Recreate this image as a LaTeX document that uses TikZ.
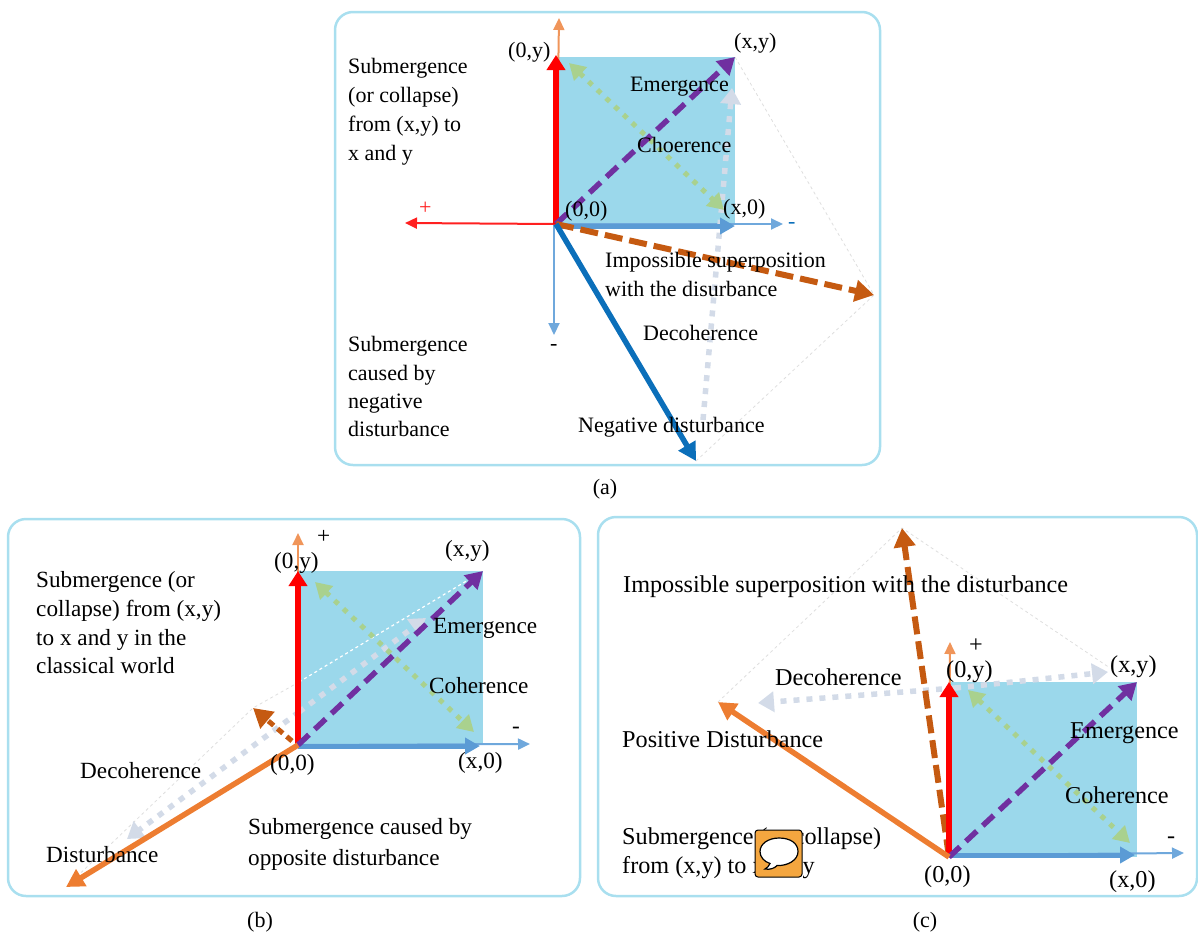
\documentclass[tikz,border=0pt]{standalone}
\usepackage{fontspec}
\setmainfont{Liberation Serif}
\usetikzlibrary{arrows.meta}
\definecolor{panelblue}{HTML}{A9DFEF}
\definecolor{sqblue}{HTML}{9BD8EB}
\definecolor{axred}{HTML}{FF2020}
\definecolor{axorange}{HTML}{F0955A}
\definecolor{axblue}{HTML}{6FA8DC}
\definecolor{thickblue}{HTML}{5B9BD5}
\definecolor{darkblue}{HTML}{0B6FBA}
\definecolor{brownish}{HTML}{C55A11}
\definecolor{purp}{HTML}{7030A0}
\definecolor{greenish}{HTML}{A9D18E}
\definecolor{paleblue}{HTML}{D3DBE8}
\definecolor{orangedist}{HTML}{ED7D31}
\definecolor{iconorange}{HTML}{F4A63F}
\tikzset{
  x=1pt,y=-1pt,
  panel/.style={draw=panelblue,line width=2.5pt,rounded corners=18pt,outer sep=0pt},
  thinaxis/.style={line width=2pt,-{Triangle[length=12pt,width=11pt]}},
  redthick/.style={draw=red,line width=6pt,-{Triangle[length=15pt,width=18pt]}},
  xthick/.style={draw=thickblue,line width=5pt,-{Triangle[length=15pt,width=16pt]}},
  purple dash/.style={draw=purp,line width=5.5pt,dash pattern=on 15pt off 8pt,-{Triangle[length=17pt,width=19pt]}},
  brown dash/.style={draw=brownish,line width=6pt,dash pattern=on 18pt off 7pt,-{Triangle[length=19pt,width=21pt]}},
  green dot/.style={draw=greenish,line width=5pt,dash pattern=on 5pt off 7pt,{Triangle[length=16pt,width=18pt]}-{Triangle[length=16pt,width=18pt]}},
  pale dot/.style={draw=paleblue,line width=5.5pt,dash pattern=on 6pt off 7pt,-{Triangle[length=16pt,width=20pt]}},
  solid dist/.style={line width=5.5pt,-{Triangle[length=18pt,width=19pt]}},
  faint/.style={draw=black!13,line width=0.8pt,dashed},
  laba/.style={anchor=base west,inner sep=0pt,font=\fontsize{22}{26}\selectfont},
  labb/.style={anchor=base west,inner sep=0pt,font=\fontsize{23.2}{27}\selectfont},
  labc/.style={anchor=base west,inner sep=0pt,font=\fontsize{24.2}{28}\selectfont},
  captext/.style={anchor=base,inner sep=0pt,font=\fontsize{22}{26}\selectfont},
}
\begin{document}
\begin{tikzpicture}
\useasboundingbox (0,0) rectangle (1198,932);
% ===== panel (a)
\node[panel,minimum width=545pt,minimum height=453pt,anchor=north west,inner sep=0pt] (pa) at (335,12) {};
\coordinate (aO) at (556,224);
\coordinate (aY) at (556,55);
\coordinate (aXY) at (735,57);
\coordinate (aUp) at (559,18);
\coordinate (aLeft) at (405,223);
\coordinate (aRight) at (783,224);
\coordinate (aDs) at (554,224);
\coordinate (aDown) at (554,335);
\coordinate (aNeg) at (696,461);
\coordinate (aImp) at (874,295);
\coordinate (aG1) at (569,63);
\coordinate (aG2) at (724,210);
\coordinate (aD1) at (703,420);
\coordinate (aD2) at (732,88);
\coordinate (aXb) at (556,226);
\coordinate (aXe) at (735,226);
\fill[sqblue] (aO) rectangle (aXY);
\draw[axorange,thinaxis] (aO) -- (aUp);
\draw[axblue,thinaxis] (aO) -- (aRight);
\draw[axblue,thinaxis] (aDs) -- (aDown);
\draw[axred,thinaxis] (aO) -- (aLeft);
\draw[faint] (aXY) -- (aImp) -- (aNeg);
\draw[pale dot] (aD1) -- (aD2);
\draw[xthick] (aXb) -- (aXe);
\draw[redthick] (aO) -- (aY);
\draw[green dot] (aG1) -- (aG2);
\draw[purple dash] (aO) -- (aXY);
\draw[brown dash] (aO) -- (aImp);
\draw[draw=darkblue,solid dist] (aO) -- (aNeg);
\node[laba] (a1) at (348,73) {Submergence};
\node[laba] (a2) at (348,102) {(or collapse)};
\node[laba] (a3) at (348,131) {from (x,y) to};
\node[laba] (a4) at (348,160) {x and y};
\node[laba] (a5) at (508,57) {(0,y)};
\node[laba] (a6) at (734,48) {(x,y)};
\node[laba] (a7) at (630,91) {Emergence};
\node[laba] (a8) at (637,152) {Choerence};
\node[laba] (a9) at (565,216) {(0,0)};
\node[laba] (a10) at (723,214) {(x,0)};
\node[laba,text=axred] (a11) at (419,214) {+};
\node[laba,text=darkblue] (a12) at (788,228) {-};
\node[laba] (a13) at (605,267) {Impossible superposition};
\node[laba] (a14) at (605,296) {with the disurbance};
\node[laba] (a15) at (643,340) {Decoherence};
\node[laba] (a16) at (550,350) {-};
\node[laba] (a17) at (348,351) {Submergence};
\node[laba] (a18) at (348,380) {caused by};
\node[laba] (a19) at (348,408) {negative};
\node[laba] (a20) at (348,436) {disturbance};
\node[laba] (a21) at (578,432) {Negative disturbance};
\node[captext] (a22) at (605,494) {(a)};
% ===== panel (b)
\node[panel,minimum width=572pt,minimum height=377pt,anchor=north west,inner sep=0pt] (pb) at (8,519) {};
\coordinate (bO) at (298,745);
\coordinate (bY) at (298,571);
\coordinate (bXY) at (483,571);
\coordinate (bUp) at (298,533);
\coordinate (bRight) at (530,744);
\coordinate (bDist) at (66,887);
\coordinate (bImp) at (253,708);
\coordinate (bImpS) at (292,741);
\coordinate (bG1) at (315,582);
\coordinate (bG2) at (474,732);
\coordinate (bDs) at (299,712);
\coordinate (bD1) at (127,839);
\coordinate (bD2) at (426,618);
\coordinate (bW) at (299,682);
\coordinate (bXe) at (480,746);
\coordinate (bXb) at (298,746);
\fill[sqblue] (bO) rectangle (bXY);
\draw[axorange,thinaxis] (bO) -- (bUp);
\draw[axblue,thinaxis] (bO) -- (bRight);
\draw[faint] (bW) -- (bImp) -- (bDist);
\draw[white,line width=1.2pt,dashed] (bW) -- (bXY);
\draw[pale dot] (bDs) -- (bD1);
\draw[pale dot] (bDs) -- (bD2);
\draw[xthick] (bXb) -- (bXe);
\draw[redthick] (bO) -- (bY);
\draw[green dot] (bG1) -- (bG2);
\draw[purple dash] (bO) -- (bXY);
\draw[brown dash,line width=5pt,dash pattern=on 7pt off 5pt] (bImpS) -- (bImp);
\draw[draw=orangedist,solid dist] (bO) -- (bDist);
\node[labb] (b1) at (36,587) {Submergence (or};
\node[labb] (b2) at (36,616) {collapse) from (x,y)};
\node[labb] (b3) at (36,645) {to x and y in the};
\node[labb] (b4) at (36,673) {classical world};
\node[labb] (b5) at (274,568) {(0,y)};
\node[labb] (b6) at (445,556) {(x,y)};
\node[labb] (b7) at (317,543) {+};
\node[labb] (b8) at (433,633) {Emergence};
\node[labb] (b9) at (429,693) {Coherence};
\node[labb] (b10) at (512,733) {-};
\node[labb] (b11) at (270,770) {(0,0)};
\node[labb] (b12) at (458,768) {(x,0)};
\node[labb] (b13) at (80,778) {Decoherence};
\node[labb] (b14) at (46,862) {Disturbance};
\node[labb] (b15) at (248,834) {Submergence caused by};
\node[labb] (b16) at (248,865) {opposite disturbance};
\node[captext] (b17) at (260,927) {(b)};
% ===== panel (c)
\node[panel,minimum width=599pt,minimum height=379pt,anchor=north west,inner sep=0pt] (pc) at (598,517) {};
\coordinate (cO) at (949,857);
\coordinate (cY) at (949,682);
\coordinate (cXY) at (1137,682);
\coordinate (cUp) at (950,642);
\coordinate (cRight) at (1184,853);
\coordinate (cImp) at (902,528);
\coordinate (cDist) at (718,702);
\coordinate (cDs) at (955,688);
\coordinate (cD1) at (758,703);
\coordinate (cD2) at (1108,672);
\coordinate (cF) at (1110,668);
\coordinate (cG1) at (968,690);
\coordinate (cG2) at (1130,843);
\coordinate (cXb) at (949,855);
\coordinate (cXe) at (1135,855);
\fill[sqblue] (cO) rectangle (cXY);
\draw[axorange,thinaxis] (cO) -- (cUp);
\draw[axblue,thinaxis] (cXb) -- (cRight);
\draw[faint] (cDist) -- (cImp) -- (cF);
\draw[pale dot] (cDs) -- (cD1);
\draw[pale dot] (cDs) -- (cD2);
\draw[xthick] (cXb) -- (cXe);
\draw[brown dash] (cO) -- (cImp);
\draw[redthick] (cO) -- (cY);
\draw[green dot] (cG1) -- (cG2);
\draw[purple dash] (cO) -- (cXY);
\draw[draw=orangedist,solid dist] (cO) -- (cDist);
\node[labc] (c1) at (623,592) {Impossible superposition with the disturbance};
\node[labc] (c2) at (969,652) {+};
\node[labc] (c3) at (946,677) {(0,y)};
\node[labc] (c4) at (1110,672) {(x,y)};
\node[labc] (c5) at (775,685) {Decoherence};
\node[labc] (c6) at (622,747) {Positive Disturbance};
\node[labc] (c7) at (1070,738) {Emergence};
\node[labc] (c8) at (1065,803) {Coherence};
\node[labc] (c9) at (622,844) {Submergence (or collapse)};
\node[labc] (c10) at (622,873) {from (x,y) to {\spaceskip=1.5pt\relax x and y}};
\node[labc] (c11) at (1167,843) {-};
\node[labc] (c12) at (924,882) {(0,0)};
\node[labc] (c13) at (1109,887) {(x,0)};
\node[captext] (c14) at (925,927) {(c)};
% speech icon
\filldraw[fill=iconorange,draw=black,line width=1pt,rounded corners=3pt] (755,830) rectangle (802,877);
\filldraw[fill=white,draw=black,line width=1.2pt] (770,863.5) .. controls (769,866) and (767,868) .. (765,869) .. controls (770,870) and (775,868) .. (777,865.5) .. controls (788,866) and (798,860) .. (798,851.5) .. controls (798,843) and (790,838) .. (779,838) .. controls (768,838) and (760,844) .. (760,851.5) .. controls (760,857) and (764,861.5) .. (770,863.5) -- cycle;
\end{tikzpicture}
\end{document}
